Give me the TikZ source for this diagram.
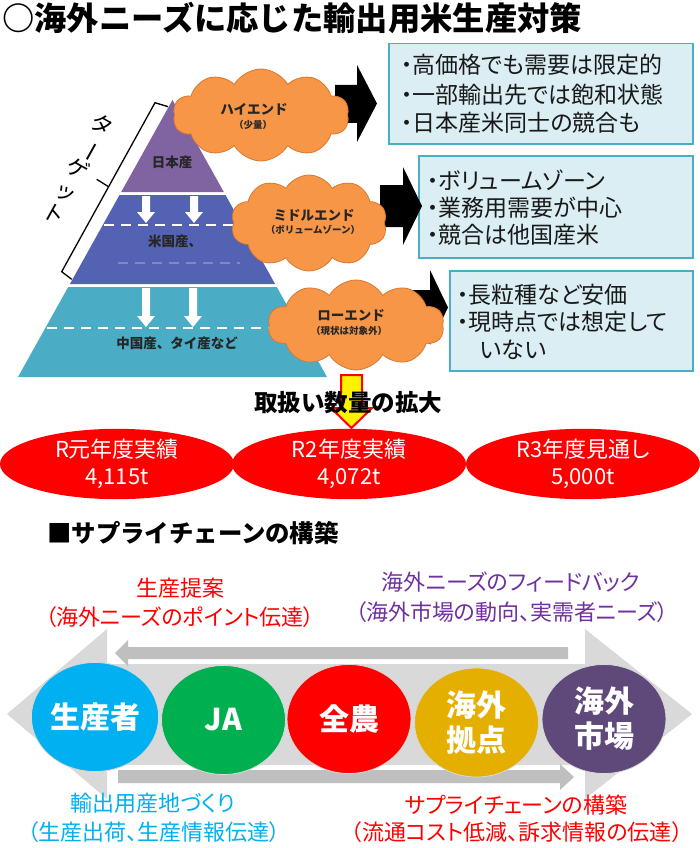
\documentclass[tikz,border=0pt]{standalone}
\usepackage{fontspec}
\setmainfont{Noto Sans CJK JP}
\newfontfamily\jpp{Noto Sans CJK JP}[RawFeature=+palt]
\usetikzlibrary{shapes.geometric,shapes.symbols}
\newcommand\fsz[2]{\fontsize{#1}{#2}\selectfont}
\definecolor{pyrpurple}{HTML}{8064A2}
\definecolor{pyrblue}{HTML}{5462B4}
\definecolor{pyrteal}{HTML}{4BACC6}
\definecolor{cloudfill}{HTML}{F79646}
\definecolor{cloudline}{HTML}{D9782E}
\definecolor{boxfill}{HTML}{DAEEF3}
\definecolor{boxline}{HTML}{4BACC6}
\definecolor{lightgray}{HTML}{D9D9D9}
\definecolor{midgray}{HTML}{BFBFBF}
\definecolor{cyanc}{HTML}{00B0F0}
\definecolor{greenc}{HTML}{00B050}
\definecolor{redc}{HTML}{FF0000}
\definecolor{goldc}{HTML}{E5AF00}
\definecolor{purplec}{HTML}{5F497A}
\definecolor{violett}{HTML}{7030A0}
\definecolor{bluet}{HTML}{00B0F0}
\begin{document}
\begin{tikzpicture}[x=1pt,y=-1pt,
  cloudst/.style={cloud, cloud puffs=10, cloud puff arc=120, cloud ignores aspect, fill=cloudfill, draw=cloudline, line width=0.8pt, inner sep=0pt},
  cloudtxt/.style={font=\bfseries\fsz{13.5}{14}, text=black!85, inner sep=0pt},
  cloudsub/.style={font=\bfseries\fsz{9.5}{10}, text=black!85, inner sep=0pt},
  boxst/.style={fill=boxfill, draw=boxline, line width=1.5pt, anchor=north west, inner sep=0pt},
  boxtxt/.style={font=\jpp\fsz{23}{23}, anchor=west, inner sep=0pt, text=black!90},
  pyrtxt/.style={font=\bfseries\fsz{13.5}{14}, text=black!85, inner sep=0pt},
  ellst/.style={ellipse, fill=redc, minimum width=234pt, minimum height=64pt, text=white, align=center, font=\jpp\fsz{22}{27}, inner sep=0pt},
  circst/.style={ellipse, minimum width=124pt, minimum height=109pt, draw=white!85!black, line width=0.8pt, text=white, align=center, font=\bfseries\fsz{30}{35}, inner sep=0pt},
  lbl/.style={font=\jpp\fsz{22}{22}, inner sep=0pt}
]
\useasboundingbox (0,0) rectangle (700,848);
\fill[white] (0,0) rectangle (700,848);

% title
\node[font=\bfseries\fsz{32.3}{33}, anchor=west, inner sep=0pt] (title) at (2,18) {○海外ニーズに応じた輸出用米生産対策};

% pyramid
\fill[pyrpurple] (172.5,100) -- (223.8,192) -- (121.2,192) -- cycle;
\fill[pyrblue] (119.5,195) -- (225.5,195) -- (275.1,284) -- (69.9,284) -- cycle;
\fill[pyrteal] (68.2,287) -- (276.8,287) -- (327,377) -- (18,377) -- cycle;
% white arrows
\fill[white] (142,196) -- (150,196) -- (150,212) -- (155,212) -- (146,223) -- (137,212) -- (142,212) -- cycle;
\fill[white] (190,196) -- (198,196) -- (198,212) -- (203,212) -- (194,223) -- (185,212) -- (190,212) -- cycle;
\fill[white] (142,288) -- (150,288) -- (150,316) -- (155,316) -- (146,327) -- (137,316) -- (142,316) -- cycle;
\fill[white] (189,288) -- (197,288) -- (197,316) -- (202,316) -- (193,327) -- (184,316) -- (189,316) -- cycle;
\draw[white, line width=2.5pt, dash pattern=on 10pt off 7pt] (104,225) -- (242,225);
\draw[white, line width=2pt, dash pattern=on 10pt off 7pt, opacity=0.25] (118,263) -- (240,263);
\draw[white, line width=2.5pt, dash pattern=on 10pt off 7pt] (47,328) -- (270,328);
\node[pyrtxt] (jp) at (172,162) {日本産};
\node[pyrtxt] (us) at (175,241) {米国産、};
\node[pyrtxt] (cn) at (177,343) {中国産、タイ産など};

% bracket
\draw[line width=1.3pt, line join=miter] (168,106.7) -- (155,102.7) -- (61.7,271.7) -- (71.7,279.3);
\draw[line width=1.3pt] (108.5,186.7) -- (96.7,179.3);
\node[rotate=-29, align=center, font=\fsz{22}{25.2}, inner sep=0pt] (target) at (78.25,168.75) {タ\\\rotatebox[origin=c]{-90}{ー}\\ゲ\\ッ\\ト};

% text boxes
\node[boxst, minimum width=304pt, minimum height=100pt] (box1) at (388,43) {};
\node[boxst, minimum width=274pt, minimum height=102pt] (box2) at (418,155) {};
\node[boxst, minimum width=243pt, minimum height=100pt] (box3) at (449,270) {};
\node[boxtxt] (b1a) at (401,65) {・高価格でも需要は限定的};
\node[boxtxt] (b1b) at (401,95) {・一部輸出先では飽和状態};
\node[boxtxt] (b1c) at (401,123) {・日本産米同士の競合も};
\node[boxtxt] (b2a) at (427,180) {・ボリュームゾーン};
\node[boxtxt] (b2b) at (427,208) {・業務用需要が中心};
\node[boxtxt] (b2c) at (427,235) {・競合は他国産米};
\node[boxtxt] (b3a) at (457,295) {・長粒種など安価};
\node[boxtxt] (b3b) at (457,322) {・現時点では想定して};
\node[boxtxt] (b3c) at (480,350) {いない};

% black arrows
\fill[black] (335,85) -- (357,85) -- (357,65) -- (377,103.5) -- (357,142) -- (357,123) -- (335,123) -- cycle;
\fill[black] (380,185) -- (403,185) -- (403,167) -- (422,206) -- (403,245) -- (403,227) -- (380,227) -- cycle;
\fill[black] (405,290) -- (430,290) -- (430,270) -- (448,307.5) -- (430,345) -- (430,326) -- (405,326) -- cycle;

% clouds
\node[cloudst, minimum width=176pt, minimum height=92pt] (c1) at (261,115) {};
\node[cloudst, minimum width=156pt, minimum height=96pt] (c2) at (309,223) {};
\node[cloudst, minimum width=176pt, minimum height=90pt] (c3) at (356,325) {};
\node[cloudtxt] (c1a) at (254,109) {ハイエンド};
\node[cloudsub] (c1b) at (253,125) {（少量）};
\node[cloudtxt] (c2a) at (314,215) {ミドルエンド};
\node[cloudsub] (c2b) at (313,230) {（ボリュームゾーン）};
\node[cloudtxt] (c3a) at (351,315) {ローエンド};
\node[cloudsub] (c3b) at (349,331) {（現状は対象外）};

% yellow arrow
\draw[fill=yellow, draw=redc, line width=2pt, line join=miter] (341,375) -- (362,375) -- (362,408) -- (372,408) -- (351.5,428) -- (331,408) -- (341,408) -- cycle;
\node[font=\bfseries\fsz{23.5}{24}, inner sep=0pt] (expand) at (348,403) {取扱い数量の拡大};

% red ellipses
\node[ellst] (e1) at (117,464) {R元年度実績\\4,115t};
\node[ellst] (e2) at (349,464) {R2年度実績\\4,072t};
\node[ellst] (e3) at (583,464) {R3年度見通し\\5,000t};

% section header
\node[font=\bfseries\fsz{24.4}{25}, anchor=west, inner sep=0pt] (sc) at (47,533) {■サプライチェーンの構築};

% big double arrow
\fill[lightgray] (7,714) -- (107,629) -- (107,664) -- (585,664) -- (585,629) -- (692,714) -- (585,799) -- (585,765) -- (107,765) -- (107,799) -- cycle;
% gray arrows
\fill[midgray] (568,647) -- (128,647) -- (128,640) -- (115,653) -- (128,666) -- (128,659) -- (568,659) -- cycle;
\fill[midgray] (118,770) -- (560,770) -- (560,764) -- (574,777) -- (560,790) -- (560,783) -- (118,783) -- cycle;

% circles
\node[circst, fill=cyanc] (n1) at (95,717) {生産者};
\node[circst, fill=greenc] (n2) at (223.5,720) {JA};
\node[circst, fill=redc] (n3) at (349,719) {全農};
\node[circst, fill=goldc] (n4) at (476.5,722.5) {海外\\拠点};
\node[circst, fill=purplec] (n5) at (604,719) {海外\\市場};

% labels
\node[lbl, text=redc] (l1a) at (180,588) {生産提案};
\node[lbl, text=redc] (l1b) at (180,617) {（海外ニーズのポイント伝達）};
\node[lbl, text=violett] (l2a) at (511,582) {海外ニーズのフィードバック};
\node[lbl, text=violett] (l2b) at (512,612) {（海外市場の動向、実需者ニーズ）};
\node[lbl, text=bluet] (l3a) at (153,803) {輸出用産地づくり};
\node[lbl, text=bluet] (l3b) at (154,832) {（生産出荷、生産情報伝達）};
\node[lbl, text=redc] (l4a) at (516,805) {サプライチェーンの構築};
\node[lbl, text=redc] (l4b) at (517,832) {（流通コスト低減、訴求情報の伝達）};
\end{tikzpicture}
\end{document}
